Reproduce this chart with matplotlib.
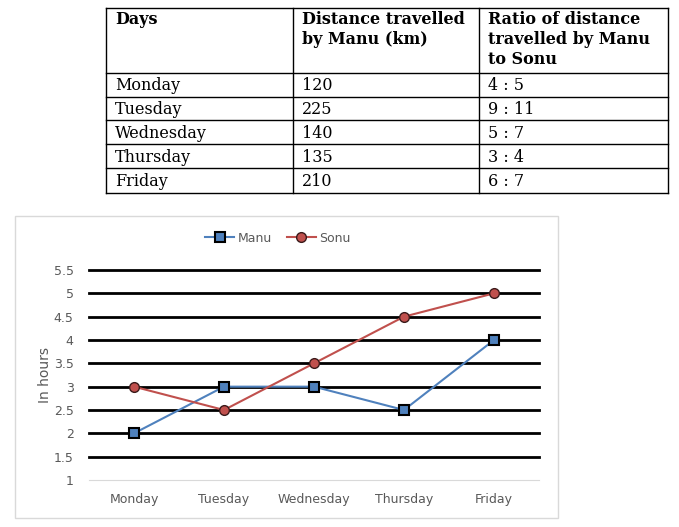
import matplotlib.pyplot as plt
from matplotlib.patches import Rectangle

days = ['Monday', 'Tuesday', 'Wednesday', 'Thursday', 'Friday']
manu_km = ['120', '225', '140', '135', '210']
ratios = ['4 : 5', '9 : 11', '5 : 7', '3 : 4', '6 : 7']
headers = ['Days', 'Distance travelled\nby Manu (km)', 'Ratio of distance\ntravelled by Manu\nto Sonu']

manu_hours = [2, 3, 3, 2.5, 4]
sonu_hours = [3, 2.5, 3.5, 4.5, 5]
y_ticks = [1, 1.5, 2, 2.5, 3, 3.5, 4, 4.5, 5, 5.5]

W, H = 679, 527
fig = plt.figure(figsize=(W / 100, H / 100), dpi=100)

# overlay axes in pixel coords for the table and the chart frame
bg = fig.add_axes([0, 0, 1, 1])
bg.set_xlim(0, W)
bg.set_ylim(H, 0)
bg.axis('off')

col_x = [106, 293, 479, 668]
row_y = [8, 73, 97, 120, 144, 168, 193]
for x in col_x:
    bg.plot([x, x], [row_y[0], row_y[-1]], color='black', lw=1)
for y in row_y:
    bg.plot([col_x[0], col_x[-1]], [y, y], color='black', lw=1)

serif = 'DejaVu Serif'
for i, h in enumerate(headers):
    bg.text(col_x[i] + 9, row_y[0] + 3, h, fontsize=11.5, fontweight='bold',
            family=serif, va='top', ha='left', linespacing=1.22)
for r, row in enumerate(zip(days, manu_km, ratios)):
    for i, val in enumerate(row):
        bg.text(col_x[i] + 9, (row_y[r + 1] + row_y[r + 2]) / 2 + 1, val,
                fontsize=11.5, family=serif, va='center', ha='left')

bg.add_patch(Rectangle((15, 216), 543, 302, fill=False, edgecolor='#d9d9d9', lw=1))

# line chart
ax = fig.add_axes([89 / W, 47 / H, 450 / W, 210 / H])
x = list(range(len(days)))
ax.plot(x, manu_hours, color='#4f81bd', lw=1.5, marker='s', markersize=7,
        markerfacecolor='#4f81bd', markeredgecolor='black', markeredgewidth=1.5,
        label='Manu', zorder=4)
ax.plot(x, sonu_hours, color='#c0504d', lw=1.5, marker='o', markersize=7,
        markerfacecolor='#c0504d', markeredgecolor='#3a1a1a', markeredgewidth=1,
        label='Sonu', zorder=4)

ax.set_xlim(-0.5, len(days) - 0.5)
ax.set_ylim(1, 5.5)
for t in y_ticks[1:]:
    ax.axhline(t, color='black', lw=2, zorder=1, clip_on=False)
for s in ['top', 'right', 'left']:
    ax.spines[s].set_visible(False)
ax.spines['bottom'].set_color('#d9d9d9')
ax.set_yticks(y_ticks)
ax.set_yticklabels([f'{t:g}' for t in y_ticks])
ax.set_xticks(x)
ax.set_xticklabels(days)
ax.tick_params(length=0, labelsize=9, colors='#595959')
ax.tick_params(axis='x', pad=9)
ax.tick_params(axis='y', pad=11)
ax.set_ylabel('In hours', fontsize=10, color='#595959', labelpad=1)
ax.patch.set_alpha(0)

ax.legend(loc='center', bbox_to_anchor=(278 / W, (H - 238) / H), bbox_transform=fig.transFigure,
          ncol=2, frameon=False, fontsize=9, labelcolor='#595959',
          handlelength=2.3, columnspacing=1.2, handletextpad=0.3)

fig.savefig('out.png', dpi=100)
